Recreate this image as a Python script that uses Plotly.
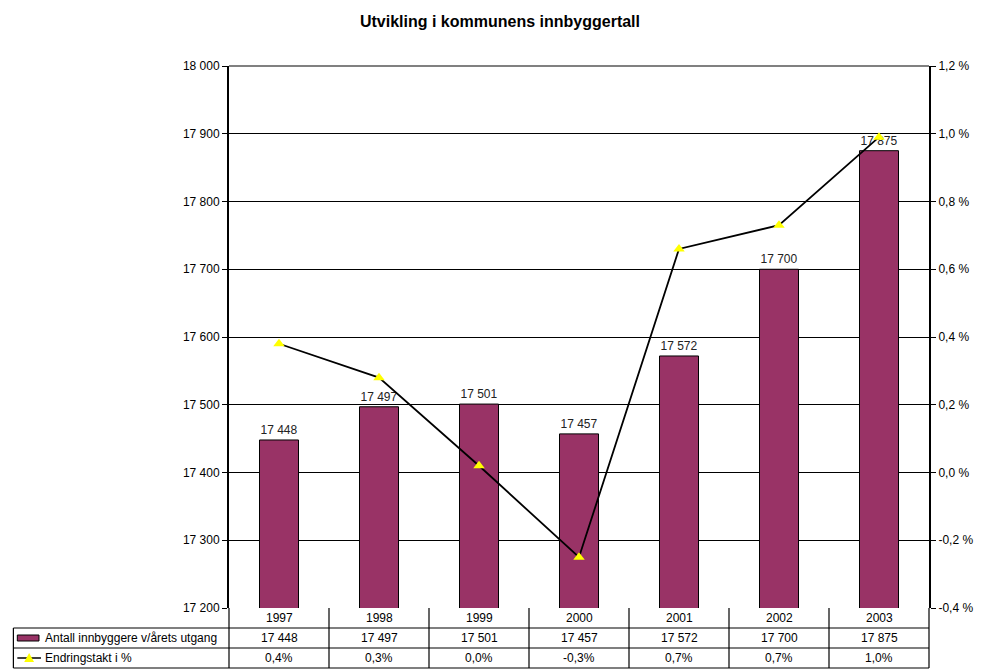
import plotly.graph_objects as go

AAR = ["1997", "1998", "1999", "2000", "2001", "2002", "2003"]
INNBYGGERE = [17448, 17497, 17501, 17457, 17572, 17700, 17875]
ENDRING = [0.38, 0.28, 0.02, -0.25, 0.66, 0.73, 0.99]
ENDRING_TXT = ["0,4%", "0,3%", "0,0%", "-0,3%", "0,7%", "0,7%", "1,0%"]
Y_TICKS = [17200, 17300, 17400, 17500, 17600, 17700, 17800, 17900, 18000]
Y2_TICKS = [-0.4, -0.2, 0.0, 0.2, 0.4, 0.6, 0.8, 1.0, 1.2]

FARGER = {"bar": "#993366", "linje": "#000000", "markor": "#FFFF00", "tekst": "#000000"}
FONT = "Liberation Sans, Arial, sans-serif"
FS = 12

# sida har 8 px body-marg, så figuren er litt mindre enn vinduet
OFF = 8
W, H = 985 - OFF, 669 - OFF
# plottområde i skjermpiksler (for tabellen under)
PL, PR, PT, PB = 229, 940, 66, 608


def fx(px):
    return (px - PL) / (PR - PL)


def fy(py):
    return (PB - py) / (PB - PT)


def tall(v):
    return f"{v:,}".replace(",", " ")


fig = go.Figure()
fig.add_trace(go.Bar(
    x=AAR, y=INNBYGGERE, name="Antall innbyggere v/årets utgang",
    marker=dict(color=FARGER["bar"], line=dict(color="#000000", width=1)),
    width=0.39, text=[tall(v) for v in INNBYGGERE], textposition="outside",
    textfont=dict(size=FS, color="#222222"), cliponaxis=False,
))
fig.add_trace(go.Scatter(
    x=AAR, y=ENDRING, name="Endringstakt i %", yaxis="y2", mode="lines+markers",
    line=dict(color=FARGER["linje"], width=1.8),
    marker=dict(symbol="triangle-up", size=10, color=FARGER["markor"]),
))

shapes = []
annots = []
linje = dict(color="#000000", width=1.2)

# tabell: horisontale linjer
for py in [628, 648, 668]:
    shapes.append(dict(type="line", xref="paper", yref="paper", x0=fx(10), x1=fx(PR),
                       y0=fy(py), y1=fy(py), line=linje))
shapes.append(dict(type="line", xref="paper", yref="paper", x0=fx(10), x1=fx(10),
                   y0=fy(628), y1=fy(668), line=linje))
kol = (PR - PL) / len(AAR)
for i in range(len(AAR) + 1):
    px = PL + i * kol
    shapes.append(dict(type="line", xref="paper", yref="paper", x0=fx(px), x1=fx(px),
                       y0=fy(PB), y1=fy(668), line=linje))

for i, a in enumerate(AAR):
    for py, txt in [(618, a), (638, tall(INNBYGGERE[i])), (658, ENDRING_TXT[i])]:
        annots.append(dict(x=i, xref="x", y=fy(py), yref="paper", text=txt,
                           xanchor="center", yanchor="middle", showarrow=False,
                           font=dict(size=FS)))

# radoverskrifter med forklaringssymbol
shapes.append(dict(type="rect", xref="paper", yref="paper", x0=fx(14), x1=fx(36),
                   y0=fy(641), y1=fy(635), fillcolor=FARGER["bar"],
                   line=dict(color="#000000", width=1)))
shapes.append(dict(type="line", xref="paper", yref="paper", x0=fx(14), x1=fx(38),
                   y0=fy(658), y1=fy(658), line=dict(color="#000000", width=1.5)))
shapes.append(dict(type="path", xref="paper", yref="paper",
                   path=f"M {fx(21)},{fy(662)} L {fx(31)},{fy(662)} L {fx(26)},{fy(653)} Z",
                   fillcolor=FARGER["markor"], line=dict(width=0)))
for py, txt in [(638, "Antall innbyggere v/årets utgang"), (658, "Endringstakt i %")]:
    annots.append(dict(x=fx(40), xref="paper", y=fy(py), yref="paper", xanchor="left",
                       yanchor="middle", text=txt, showarrow=False, font=dict(size=FS)))

# topplinje (grå)
shapes.append(dict(type="line", xref="paper", yref="paper", x0=0, x1=1, y0=1, y1=1,
                   line=dict(color="#808080", width=2)))

fig.update_layout(
    width=W, height=H,
    paper_bgcolor="white", plot_bgcolor="white",
    font=dict(family=FONT, size=FS, color=FARGER["tekst"]),
    title=dict(text="<b>Utvikling i kommunens innbyggertall</b>", x=(500 - OFF) / W,
               xref="container", xanchor="center", y=1 - (21 - OFF) / H, yanchor="middle",
               font=dict(size=16)),
    margin=dict(l=PL - OFF, r=985 - PR, t=PT - OFF, b=H - (PB - OFF), pad=0),
    showlegend=False,
    xaxis=dict(type="category", range=[-0.5, 6.5], showticklabels=False, showgrid=False,
               ticks="", showline=False, zeroline=False),
    yaxis=dict(range=[17200, 18000], tickvals=Y_TICKS, ticktext=[tall(v) for v in Y_TICKS],
               showgrid=True, gridcolor="#000000", gridwidth=1, showline=True,
               linecolor="#000000", linewidth=2, ticks="outside", ticklen=5,
               tickcolor="#000000", zeroline=False, tickfont=dict(size=FS)),
    yaxis2=dict(range=[-0.4, 1.2], overlaying="y", side="right", tickvals=Y2_TICKS,
                ticktext=[f"{v:.1f} %".replace(".", ",") for v in Y2_TICKS],
                showgrid=False, showline=True, linecolor="#000000", linewidth=2,
                ticks="outside", ticklen=5, tickcolor="#000000", zeroline=False,
                tickfont=dict(size=FS)),
    shapes=shapes,
    annotations=annots,
)

fig.write_html("out.html")
